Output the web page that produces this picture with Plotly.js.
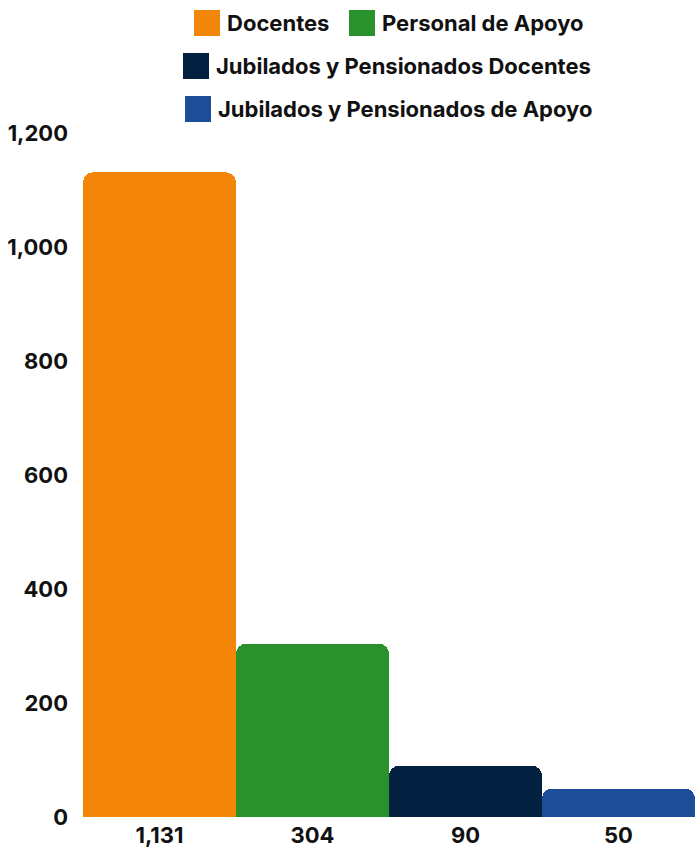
<!DOCTYPE html>
<html>
<head>
<meta charset="utf-8">
<script src="https://cdn.plot.ly/plotly-3.0.1.min.js"></script>
<style>html,body{margin:0;padding:0;background:#fff;}#chart{width:695px;height:850px;}</style>
</head>
<body>
<div id="chart"></div>
<script>
// Data
const seriesNames = ["Docentes", "Personal de Apoyo", "Jubilados y Pensionados Docentes", "Jubilados y Pensionados de Apoyo"];
const categories = ["1,131", "304", "90", "50"];
const values = [1131, 304, 90, 50];
const colors = ["#F38508", "#29922C", "#02203F", "#1D4C99"];
const yTicks = [0, 200, 400, 600, 800, 1000, 1200];

const FONT = "Inter, 'Liberation Sans', Arial, sans-serif";
const FS = 22;
const W = 695, H = 850;
const M = {l: 83, r: 0, t: 133, b: 33};
const PW = W - M.l - M.r, PH = H - M.t - M.b;
const px2x = p => (p - M.l) / PW;
const px2y = p => (H - M.b - p) / PH;

const traces = seriesNames.map((name, i) => ({
  type: "bar",
  name: name,
  x: [categories[i]],
  y: [values[i]],
  marker: {color: colors[i], line: {width: 0}},
  showlegend: false,
  hoverinfo: "skip"
}));

// custom legend layout (pixel positions of the legend swatches, rows centred)
const legendItems = [
  {i: 0, sx: 194, sy: 10},
  {i: 1, sx: 349, sy: 10},
  {i: 2, sx: 183, sy: 53},
  {i: 3, sx: 185, sy: 96}
];
const SW = 26;
const shapes = [], annotations = [];
legendItems.forEach(it => {
  shapes.push({
    type: "rect", xref: "paper", yref: "paper",
    x0: px2x(it.sx), x1: px2x(it.sx + SW),
    y0: px2y(it.sy + SW), y1: px2y(it.sy),
    fillcolor: colors[it.i], line: {width: 0}
  });
  annotations.push({
    xref: "paper", yref: "paper",
    x: px2x(it.sx + SW + 5), y: px2y(it.sy + SW / 2),
    xanchor: "left", yanchor: "middle",
    text: seriesNames[it.i], showarrow: false,
    font: {family: FONT, size: FS, color: "#111111", weight: 700}
  });
});

const layout = {
  width: W, height: H,
  margin: M,
  paper_bgcolor: "#ffffff", plot_bgcolor: "#ffffff",
  barmode: "overlay",
  bargap: 0,
  barcornerradius: 10,
  showlegend: false,
  font: {family: FONT, size: FS, color: "#111111", weight: 700},
  xaxis: {
    type: "category",
    categoryarray: categories,
    showgrid: false, zeroline: false, showline: false,
    ticks: "", ticklabelstandoff: 3,
    tickfont: {family: FONT, size: FS, color: "#111111", weight: 700},
    fixedrange: true
  },
  yaxis: {
    range: [0, 1200],
    tickvals: yTicks,
    tickformat: ",d",
    showgrid: false, zeroline: false, showline: false,
    ticks: "", ticklabelstandoff: 14,
    tickfont: {family: FONT, size: FS, color: "#111111", weight: 700},
    fixedrange: true
  },
  shapes: shapes,
  annotations: annotations
};

Plotly.newPlot("chart", traces, layout, {displayModeBar: false, staticPlot: true});
</script>
</body>
</html>
